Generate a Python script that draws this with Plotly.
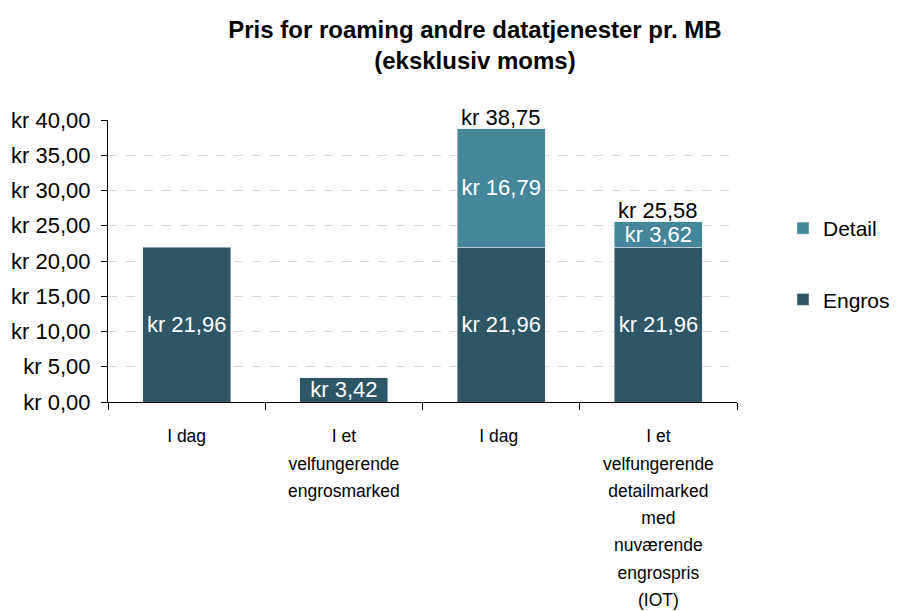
import plotly.graph_objects as go

# categories (trailing space keeps the two "I dag" columns distinct)
categories = ['I dag',
              'I et<br>velfungerende<br>engrosmarked',
              'I dag ',
              'I et<br>velfungerende<br>detailmarked<br>med<br>nuværende<br>engrospris<br>(IOT)']
engros = [21.96, 3.42, 21.96, 21.96]
detail = [None, None, 16.79, 3.62]

def kr(v):
    return 'kr ' + f'{v:.2f}'.replace('.', ',')

# smaller glyphs but the wider line spacing of the base font
def small(label):
    return '<br>'.join(f'<span style="font-size:17.5px">{s}</span>' for s in label.split('<br>'))

c_engros = '#2e5664'
c_detail = '#44879a'
font = 'Liberation Sans, Arial, sans-serif'

fig = go.Figure()
fig.add_trace(go.Bar(
    name='Engros', x=categories, y=engros,
    marker_color=c_engros,
    text=[kr(v) for v in engros],
    textposition='inside', insidetextanchor='middle',
    constraintext='none',
    textfont=dict(color='white', size=22),
    legendgroup='a', legendrank=2,
))
fig.add_trace(go.Bar(
    name='Detail', x=categories, y=detail,
    marker_color=c_detail,
    text=[kr(v) if v else '' for v in detail],
    textposition='inside', insidetextanchor='middle',
    constraintext='none',
    textfont=dict(color='white', size=22),
    legendgroup='b', legendrank=1,
))

# totals above stacked bars
for cat, e, d in zip(categories, engros, detail):
    if d:
        fig.add_annotation(x=cat, y=e + d, text=kr(e + d), showarrow=False,
                           yanchor='bottom', yshift=-3,
                           font=dict(size=22, color='black'))

# page body has an 8px margin, so margins are offset by that
fig.update_layout(
    width=898, height=611,
    barmode='stack', bargap=0.44,
    separators=',.',
    font=dict(family=font, size=22, color='black'),
    paper_bgcolor='white', plot_bgcolor='white',
    margin=dict(l=100, r=169, t=112, b=217),
    title=dict(text='<b>Pris for roaming andre datatjenester pr. MB<br>(eksklusiv moms)</b>',
               x=0.52, xanchor='center', y=0.951, yanchor='top',
               font=dict(size=24, color='black')),
    legend=dict(x=0.863, xref='container', y=0.688, xanchor='left', yanchor='top',
                traceorder='grouped', tracegroupgap=41,
                font=dict(size=21)),
    showlegend=True,
)
fig.update_yaxes(range=[0, 40], dtick=5, tickprefix='kr ', tickformat='.2f',
                 showline=True, linecolor='black', linewidth=1,
                 ticks='outside', ticklen=6, tickcolor='black',
                 ticklabelstandoff=6,
                 showgrid=True, gridcolor='#d9d9d9', griddash='dash',
                 zeroline=False, automargin=False)
fig.update_xaxes(type='category', tickson='boundaries',
                 tickmode='array', tickvals=categories,
                 ticktext=[small(c) for c in categories],
                 showline=True, linecolor='black', linewidth=1,
                 ticks='outside', ticklen=7, tickcolor='black',
                 tickfont=dict(size=21),
                 ticklabelstandoff=14,
                 showgrid=False, automargin=False)

fig.write_html('out.html')
